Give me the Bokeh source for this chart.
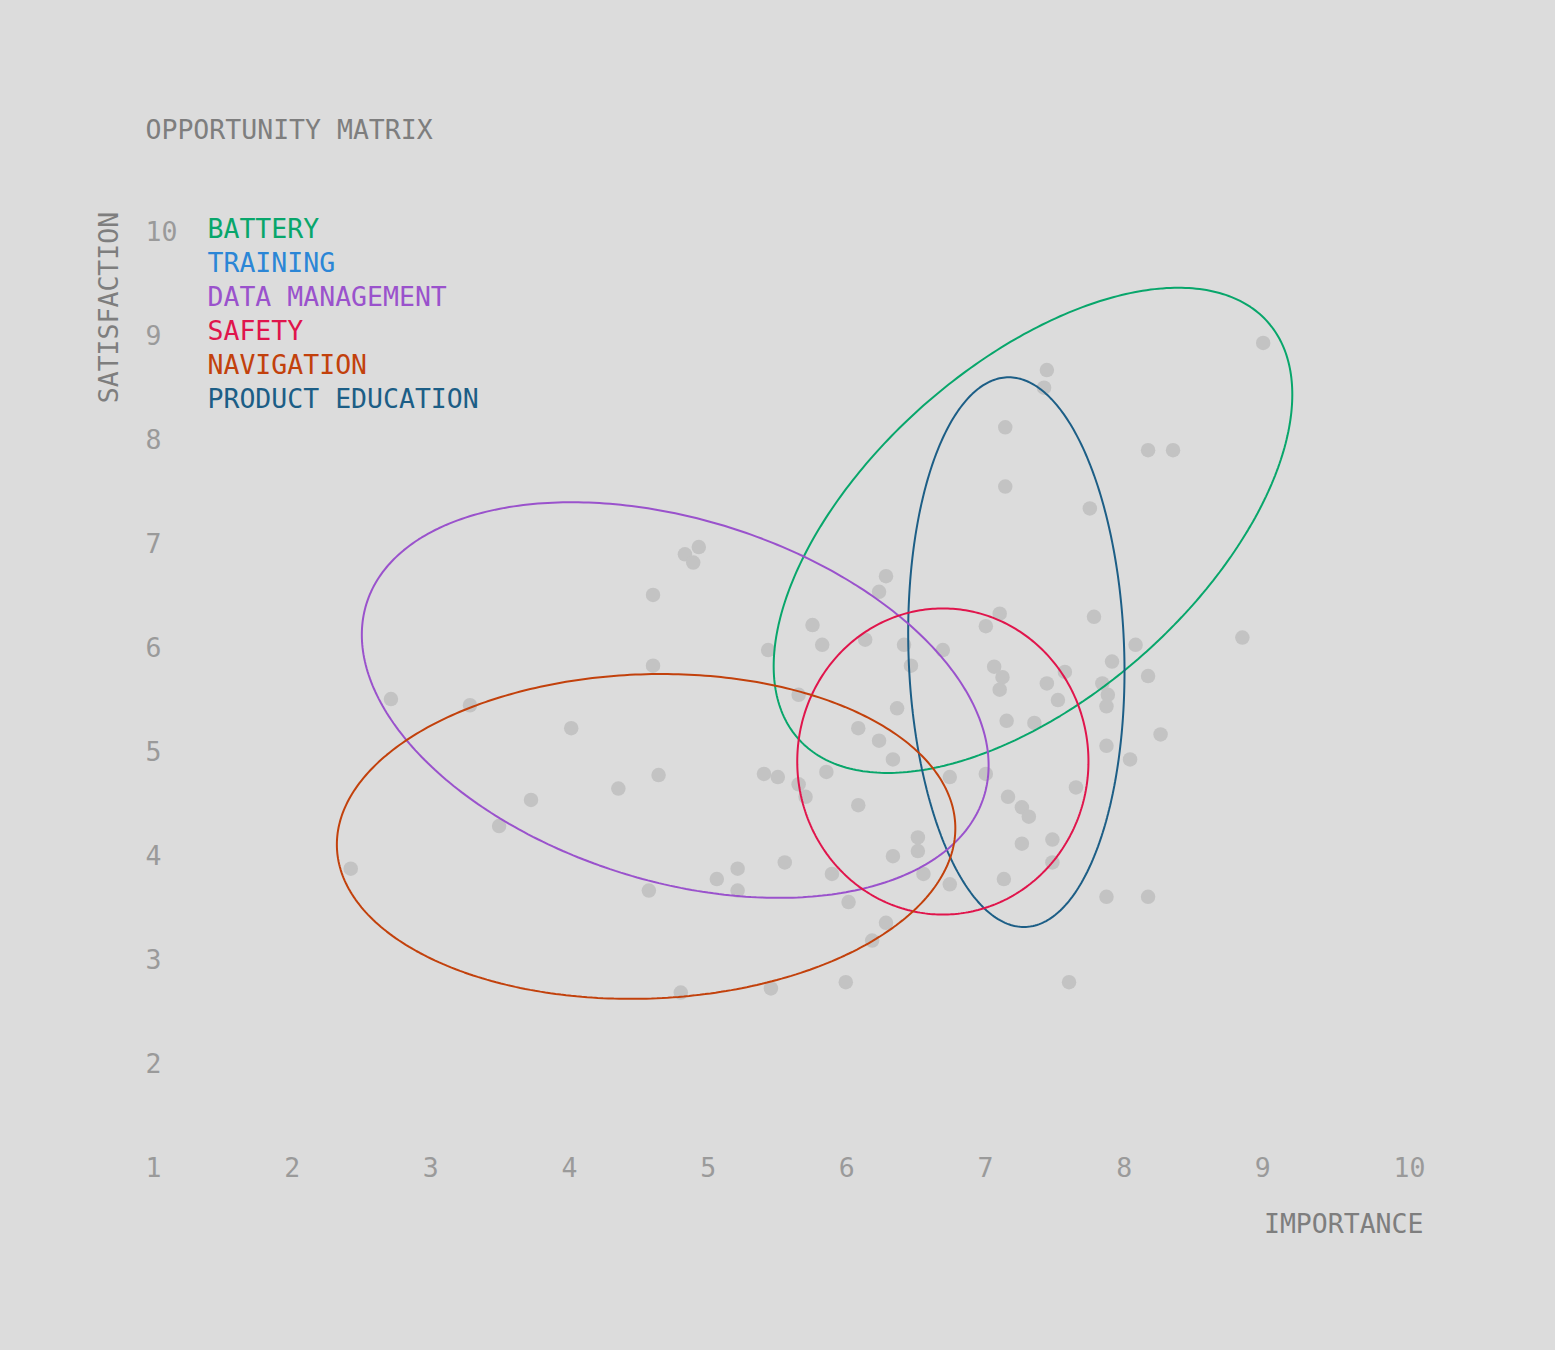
import numpy as np
from bokeh.plotting import figure
from bokeh.models import Range1d, GlobalInlineStyleSheet
from bokeh.core.properties import value
from bokeh.embed import file_html
from bokeh.resources import INLINE

# ---------------- data ----------------
importance = [9.06, 7.50, 7.48, 7.20, 8.23, 8.41, 7.20, 7.81, 4.99, 4.89,
              4.95, 6.34, 6.29, 4.66, 7.16, 7.84, 7.06, 5.81, 8.91, 6.19,
              5.88, 6.47, 8.14, 5.49, 6.75, 7.97, 4.66, 6.52, 7.12, 7.63,
              7.18, 8.23, 7.50, 7.90, 7.16, 7.94, 2.77, 5.71, 7.58, 3.34,
              7.93, 6.42, 7.21, 7.41, 4.07, 6.14, 8.32, 6.29, 7.93, 6.39,
              8.10, 5.46, 4.70, 5.56, 5.91, 7.06, 6.80, 5.71, 5.76, 4.41,
              7.71, 3.78, 7.22, 6.14, 7.32, 7.37, 3.55, 6.57, 7.54, 7.32,
              6.57, 6.39, 2.48, 5.61, 5.27, 7.54, 5.95, 6.61, 5.12, 7.19,
              4.63, 5.27, 6.80, 6.07, 7.93, 8.23, 6.34, 6.24, 6.05, 7.66,
              5.51, 4.86]
satisfaction = [8.92, 8.66, 8.49, 8.11, 7.89, 7.89, 7.54, 7.33, 6.96, 6.89,
                6.81, 6.68, 6.53, 6.50, 6.32, 6.29, 6.20, 6.21, 6.09, 6.07,
                6.02, 6.02, 6.02, 5.97, 5.97, 5.86, 5.82, 5.82, 5.81, 5.76,
                5.71, 5.72, 5.65, 5.65, 5.59, 5.54, 5.50, 5.54, 5.49, 5.44,
                5.43, 5.41, 5.29, 5.27, 5.22, 5.22, 5.16, 5.10, 5.05, 4.92,
                4.92, 4.78, 4.77, 4.75, 4.80, 4.78, 4.75, 4.68, 4.56, 4.64,
                4.65, 4.53, 4.56, 4.48, 4.46, 4.37, 4.28, 4.17, 4.15, 4.11,
                4.04, 3.99, 3.87, 3.93, 3.87, 3.93, 3.82, 3.82, 3.77, 3.77,
                3.66, 3.66, 3.72, 3.55, 3.60, 3.60, 3.35, 3.18, 2.78, 2.78,
                2.72, 2.68]

legend_labels = ["BATTERY", "TRAINING", "DATA MANAGEMENT", "SAFETY",
                 "NAVIGATION", "PRODUCT EDUCATION"]
legend_colors = ["#08a66b", "#2b86d6", "#9a52cc", "#e0154c", "#c2410c", "#1c5e86"]

# ellipse summaries (centre, half extents, correlation)
ell_names = ["BATTERY", "PRODUCT EDUCATION", "DATA MANAGEMENT", "SAFETY", "NAVIGATION"]
ell_colors = ["#08a66b", "#1c5e86", "#9a52cc", "#e0154c", "#c2410c"]
ell_cx = [7.40, 7.28, 4.82, 6.75, 4.61]
ell_cy = [7.12, 5.95, 5.49, 4.90, 4.18]
ell_rx = [1.87, 0.78, 2.26, 1.05, 2.23]
ell_ry = [2.33, 2.64, 1.90, 1.47, 1.56]
ell_rho = [0.56, -0.07, -0.33, 0.0, 0.05]

x_ticks = [1, 2, 3, 4, 5, 6, 7, 8, 9, 10]
y_ticks = [2, 3, 4, 5, 6, 7, 8, 9, 10]

title_text = "OPPORTUNITY MATRIX"
x_title = "IMPORTANCE"
y_title = "SATISFACTION"

# ---------------- style ----------------
BG = "#dcdcdc"
POINT = "#c3c3c3"
TICK = "#9a9a9a"
TITLE = "#7e7e7e"
FONT = "DejaVu Sans Mono"
FS = "26.5px"

p = figure(width=1539, height=1334, output_backend="svg", toolbar_location=None,
           x_range=Range1d(-0.0457, 11.0527), y_range=Range1d(-0.6041, 12.2093),
           x_axis_location=None, y_axis_location=None, min_border=0,
           background_fill_color=BG, border_fill_color=BG, outline_line_color=None)
p.grid.visible = False
p.stylesheets = [GlobalInlineStyleSheet(css="body { background: %s; }" % BG)]

# points
p.scatter(importance, satisfaction, size=14.5, fill_color=POINT, line_color=None)

# ellipses
t = np.linspace(0, 2 * np.pi, 361)
for cx, cy, rx, ry, rho, col in zip(ell_cx, ell_cy, ell_rx, ell_ry, ell_rho, ell_colors):
    ex = cx + rx * np.cos(t)
    ey = cy + ry * (rho * np.cos(t) + np.sqrt(1 - rho ** 2) * np.sin(t))
    p.line(ex, ey, line_color=col, line_width=2)

# tick labels
p.text(x=x_ticks, y=[1] * len(x_ticks), text=[str(v) for v in x_ticks],
       text_font=value(FONT), text_font_size=FS, text_color=TICK,
       text_align="left", text_baseline="middle")
p.text(x=[1] * len(y_ticks), y=y_ticks, text=[str(v) for v in y_ticks],
       text_font=value(FONT), text_font_size=FS, text_color=TICK,
       text_align="left", text_baseline="middle")

# titles
p.text(x=[1], y=[10.97], text=[title_text], text_font=value(FONT), text_font_size=FS,
       text_color=TITLE, text_align="left", text_baseline="middle")
p.text(x=[10.216], y=[0.462], text=[x_title], text_font=value(FONT), text_font_size=FS,
       text_color=TITLE, text_align="right", text_baseline="middle")
p.text(x=[0.733], y=[9.26], text=[y_title], text_font=value(FONT), text_font_size=FS,
       text_color=TITLE, text_align="center", text_baseline="middle", angle=np.pi / 2)

# legend (coloured labels)
leg_x = 1.447
leg_y0 = 10.02
leg_step = 0.3266
p.text(x=[leg_x] * len(legend_labels),
       y=[leg_y0 - i * leg_step for i in range(len(legend_labels))],
       text=legend_labels, text_color=legend_colors,
       text_font=value(FONT), text_font_size=FS,
       text_align="left", text_baseline="middle")

open("out.html", "w").write(file_html(p, INLINE))
